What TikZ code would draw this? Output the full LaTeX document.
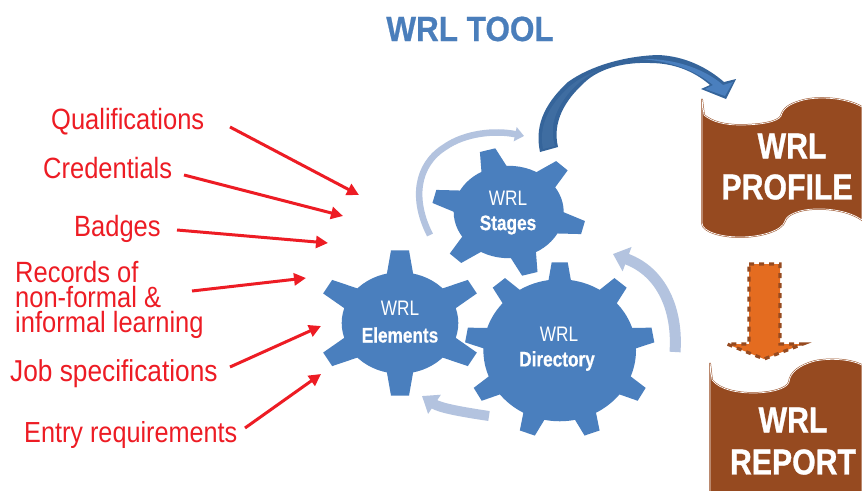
\documentclass[tikz,border=0pt]{standalone}
\usepackage{fontspec}
\usetikzlibrary{arrows.meta}
\newfontfamily\labfont[FakeStretch=0.87]{Liberation Sans}
\newfontfamily\gearfont[FakeStretch=0.82]{Liberation Sans}
\newfontfamily\gearbold[FakeStretch=0.82,FakeBold=0.6]{Liberation Sans Bold}
\newfontfamily\titlebold[FakeStretch=0.9,FakeBold=0.6]{Liberation Sans Bold}
\newfontfamily\scrollbold[FakeStretch=0.84,FakeBold=0.8]{Liberation Sans Bold}
\definecolor{gearblue}{HTML}{4A7FBE}
\definecolor{titleblue}{HTML}{4A7EBB}
\definecolor{arcblue}{HTML}{B3C3DF}
\definecolor{swooshdark}{HTML}{35649A}
\definecolor{swooshmid}{HTML}{3F6DA1}
\definecolor{scrollbrown}{HTML}{964A20}
\definecolor{downorange}{HTML}{E46C20}
\definecolor{labelred}{HTML}{ED1C24}
\tikzset{
  lab/.style={text=labelred,inner sep=0pt,font=\labfont\fontsize{29.3}{25}\selectfont,align=left},
  redarrow/.style={draw=labelred,line width=3pt,-{Triangle[length=12pt,width=12pt]}},
  geartop/.style={text=white,inner sep=0pt,font=\gearfont\fontsize{21}{21}\selectfont},
  gearbot/.style={text=white,inner sep=0pt,font=\gearbold\fontsize{21}{21}\selectfont},
  scrolltext/.style={text=white,inner sep=0pt,font=\scrollbold\fontsize{36}{36}\selectfont},
  scrollshape/.style={fill=scrollbrown,draw=scrollbrown,line width=.5pt,double=white,double distance=.7pt},
  arcarrow/.style={draw=arcblue},
}
% cx cy yscale body-r tip-R base-halfwidth tip-halfwidth teeth start-angle
\newcommand{\GearDraw}[9]{%
  \begin{scope}[shift={(#1,#2)},x=1pt,y=#3pt]
    \fill[gearblue] (0,0) circle[x radius=#4pt,y radius=#3*#4pt];
    \foreach \k in {1,...,#8}{%
      \pgfmathsetmacro{\ang}{#9+360/#8*\k}%
      \pgfmathsetmacro{\db}{asin(#6/#4)}%
      \pgfmathsetmacro{\dt}{asin(#7/#5)}%
      \fill[gearblue] ({\ang-\db}:#4-1) -- ({\ang-\dt}:#5) -- ({\ang+\dt}:#5) -- ({\ang+\db}:#4-1) -- cycle;
    }
  \end{scope}}
\begin{document}
\begin{tikzpicture}[x=1pt,y=-1pt]
\useasboundingbox (0,0) rectangle (862,490);
\fill[white] (0,0) rectangle (862,490);

% title
\node[text=titleblue,inner sep=0pt,font=\titlebold\fontsize{35}{35}\selectfont,anchor=base] (title) at (470,41) {WRL TOOL};

% labels
\node[lab,anchor=base west] (qual) at (51,129) {Qualifications};
\node[lab,anchor=base west] (cred) at (43,178) {Credentials};
\node[lab,anchor=base west] (badg) at (74,236) {Badges};
\node[lab,anchor=west] (reco) at (15,300) {Records of\\non-formal \&\\informal learning};
\node[lab,anchor=base west,font=\labfont\fontsize{30.2}{25}\selectfont] (jobs) at (10,381) {Job specifications};
\node[lab,anchor=base west,font=\labfont\fontsize{29}{25}\selectfont] (entr) at (24,442) {Entry requirements};

% red connectors
\coordinate (s1) at (230,127); \coordinate (e1) at (359,195);
\coordinate (s2) at (184,175); \coordinate (e2) at (343,216);
\coordinate (s3) at (177,230); \coordinate (e3) at (328,243);
\coordinate (s4) at (192,291); \coordinate (e4) at (306,278);
\coordinate (s5) at (230,367); \coordinate (e5) at (321,326);
\coordinate (s6) at (245,428); \coordinate (e6) at (321,374);
\draw[redarrow] (s1) -- (e1);
\draw[redarrow] (s2) -- (e2);
\draw[redarrow] (s3) -- (e3);
\draw[redarrow] (s4) -- (e4);
\draw[redarrow] (s5) -- (e5);
\draw[redarrow] (s6) -- (e6);

% light curved arrows
\draw[arcarrow,line width=6.5pt,-{Triangle[length=9pt,width=14pt]}]
  (430,235) .. controls (412,200) and (416,165) .. (445,147)
  .. controls (465,133) and (495,130) .. (524,136);
\draw[arcarrow,line width=11pt,-{Triangle[length=15pt,width=25pt]}]
  (675,352) .. controls (678,310) and (662,272) .. (613,254);
\draw[arcarrow,line width=10pt,-{Triangle[length=15pt,width=22pt]}]
  (489,416) .. controls (462,412) and (440,408) .. (422,396);

% gears
\GearDraw{508.7}{212}{0.84}{55}{77}{13.5}{8}{6}{-14}
\GearDraw{400}{323}{0.87}{58.3}{84}{13.5}{9}{6}{30}
\GearDraw{559.7}{350.3}{0.93}{76.3}{95}{11.5}{8}{9}{50}

\node[geartop] (st1) at (508,198) {WRL};
\node[gearbot] (st2) at (508,225) {Stages};
\node[geartop] (el1) at (400,308) {WRL};
\node[gearbot] (el2) at (400,335) {Elements};
\node[geartop] (di1) at (559,334) {WRL};
\node[gearbot] (di2) at (557,361) {Directory};

% big swoosh arrow
\fill[swooshdark]
  (540,152) .. controls (535,128) and (542,106) .. (568,82)
  .. controls (590,66) and (625,56) .. (658,55)
  .. controls (685,56) and (708,68) .. (724,82)
  -- (736,79) -- (726,99) -- (701,89) -- (710,85)
  .. controls (695,72) and (675,63) .. (650,63)
  .. controls (625,62) and (600,68) .. (585,82)
  .. controls (565,100) and (552,122) .. (558,147) -- cycle;
\fill[swooshmid]
  (543,149) .. controls (539,128) and (546,108) .. (570,86)
  .. controls (580,78) and (590,73) .. (600,70)
  .. controls (585,76) and (572,88) .. (565,98)
  .. controls (553,115) and (550,130) .. (555,146) -- cycle;
\fill[gearblue]
  (640,59) .. controls (680,58) and (708,72) .. (723,85)
  -- (733,82) -- (725,96) -- (705,89) -- (713,85)
  .. controls (695,70) and (670,61) .. (640,59) -- cycle;

% scroll: profile
\draw[scrollshape]
  (702,99) -- (704,115)
  .. controls (712,122) and (725,125) .. (740,125)
  .. controls (760,125) and (778,122) .. (781,116)
  .. controls (783,108) and (790,104) .. (800,101)
  .. controls (815,96) and (845,97) .. (862,107)
  -- (862,220)
  .. controls (845,208) and (815,207) .. (800,211)
  .. controls (790,214) and (786,217) .. (785,221)
  .. controls (782,231) and (760,237) .. (740,237)
  .. controls (722,237) and (702,232) .. (702,223) -- cycle;
\node[scrolltext] (pr1) at (792,146) {WRL};
\node[scrolltext] (pr2) at (787,187) {PROFILE};

% down arrow
\draw[fill=downorange,draw=scrollbrown,line width=3.2pt,dash pattern=on 5pt off 5pt]
  (749,264) -- (780,264) -- (780,344) -- (803,344) -- (764,359) -- (727,344) -- (749,344) -- cycle;

% scroll: report
\draw[scrollshape]
  (710,363) -- (712,380)
  .. controls (720,390) and (738,393) .. (753,393)
  .. controls (770,393) and (787,389) .. (789,382)
  .. controls (790,372) and (800,365) .. (815,361)
  .. controls (830,358) and (850,359) .. (862,365)
  -- (862,492) -- (710,492) -- cycle;
\node[scrolltext] (re1) at (793,420) {WRL};
\node[scrolltext] (re2) at (793,462) {REPORT};
\end{tikzpicture}
\end{document}
